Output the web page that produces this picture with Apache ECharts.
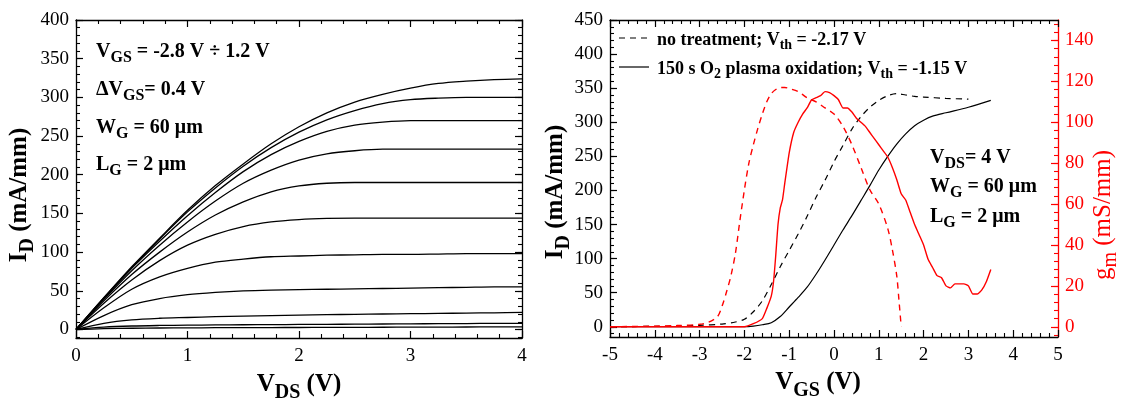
<!DOCTYPE html>
<html>
<head>
<meta charset="utf-8">
<script src="https://cdn.jsdelivr.net/npm/echarts@6/dist/echarts.min.js"></script>
<style>
html,body{margin:0;padding:0;background:#fff;}
#c{width:1125px;height:398px;}
</style>
</head>
<body>
<div id="c"></div>
<script>
// ---------- Left panel: output characteristics ----------
const vds = [0,0.25,0.5,0.75,1,1.25,1.5,1.75,2,2.25,2.5,2.75,3,3.25,3.5,3.75,4];
const vgsLabels = ['1.2','0.8','0.4','0','-0.4','-0.8','-1.2','-1.6','-2.0','-2.4','-2.8'];
const id_p12 = [0,41,81,118,154,186,214,240,262,280,294,304,312,318,321,323,324];
const id_p08 = [0,41,80,117,152,183,211,235,255,271,283,292,297,299,300,300,300];
const id_p04 = [0,40,79,114,147,177,204,226,243,256,264,268,270,270,270,270,270];
const id_p00 = [0,39,76,109,139,166,189,206,219,227,231,233,233,233,233,233,233];
const id_m04 = [0,37,71,100,126,148,165,178,185.5,189,190,190,190,190,190,190,190];
const id_m08 = [0,34,64,89,109,123,133,139,142,143.5,144,144,144,144,144,144,144];
const id_m12 = [0,28,52,68,79,87,91,94,95,96,96.5,97,97,97.5,98,98,98];
const id_m16 = [0,18,32,40,45,48,50,51,51.5,52,52.5,53,53.5,54,54.5,55,55];
const id_m20 = [0,8,12.5,14.5,15.5,16.5,17.3,18,18.6,19.1,19.6,20,20.4,20.8,21.2,21.6,22];
const id_m24 = [0,3,4.5,5.2,5.6,5.9,6.1,6.3,6.5,6.7,6.9,7.1,7.3,7.5,7.7,7.9,8];
const id_m28 = [0,1,1.6,1.9,2.1,2.3,2.4,2.5,2.6,2.7,2.8,2.9,3.0,3.1,3.2,3.3,3.4];
const outCurves = [id_p12,id_p08,id_p04,id_p00,id_m04,id_m08,id_m12,id_m16,id_m20,id_m24,id_m28];

// ---------- Right panel: transfer characteristics ----------
const vgsRef = [-5,-4.5,-4,-3.5,-3,-2.5,-2.2,-2,-1.8,-1.6,-1.4,-1.2,-1,-0.8,-0.6,-0.4,-0.2,0,0.2,0.4,0.6,0.8,1,1.2,1.4,1.6,1.8,2,2.5,3];
const idRef  = [0,0.3,0.6,1,2,4,7,11,22,38,62,88,112,136,162,190,215,242,266,290,308,322,332,339,342,340,338,337,335,334];
const vgsOx = [-5,-4,-3,-2,-1.8,-1.6,-1.4,-1.2,-1,-0.8,-0.6,-0.4,-0.2,0,0.2,0.4,0.6,0.8,1,1.2,1.4,1.6,1.8,2,2.2,2.5,3,3.5];
const idOx  = [0,0,0,0,1,3,6,15,29,43,58,77,98,120,142,163,185,207,230,250,268,283,295,303,309,314,322,332];
const vgsGmRef = [-5,-4,-3.5,-3,-2.8,-2.6,-2.5,-2.4,-2.3,-2.2,-2.1,-2,-1.9,-1.8,-1.7,-1.6,-1.5,-1.4,-1.3,-1.2,-1.1,-1,-0.8,-0.6,-0.4,-0.2,0,0.2,0.4,0.6,0.8,1,1.2,1.3,1.4,1.45,1.5];
const gmRef = [0,0.3,0.6,1.2,2.2,5,10,17,25,36,52,67,80,89,97,104,110,114,116,117,117,116.5,115,112,110,107,104,98,89,78,67,60,48,38,25,13,0];
const vgsGmOx = [-5,-2,-1.8,-1.6,-1.5,-1.4,-1.35,-1.3,-1.25,-1.2,-1.15,-1.1,-1,-0.9,-0.8,-0.7,-0.6,-0.5,-0.4,-0.3,-0.2,-0.1,0,0.1,0.2,0.3,0.4,0.5,0.6,0.7,0.8,0.9,1,1.1,1.2,1.3,1.4,1.5,1.6,1.7,1.8,1.9,2,2.1,2.2,2.3,2.4,2.5,2.6,2.7,2.8,2.9,3,3.1,3.2,3.3,3.4,3.5];
const gmOx = [0,0,1.5,4,9,15,22,35,50,58,62,70,85,95,100,104,107,111,112,113,115,114.5,113,111,107,107,105,102,100,98,95,92,89,86,83,78,72,65,62,56,50,45,40,33,29,25,24,20,19,21,21,21,20,16,16,18,22,28];

// ---------- Tick values ----------
const idTicksL = [0,50,100,150,200,250,300,350,400];
const idTicksR = [0,50,100,150,200,250,300,350,400,450];
const gmTicks = [0,20,40,60,80,100,120,140];
const minorL = []; for (let v=-10; v<=400; v+=10) minorL.push(v);
const minorR = []; for (let v=-10; v<=450; v+=10) minorR.push(v);
const minorGm = []; for (let v=-4; v<=150; v+=4) minorGm.push(v);

const FONT = 'Liberation Serif';
const RED = '#ff0000';
const chart = echarts.init(document.getElementById('c'), null, {renderer:'canvas'});

function yMajor(grid, min, max, pos, vals, showLabel, color){
  return {type:'value', gridIndex:grid, min:min, max:max, position:pos,
    axisLine:{show:true, onZero:false, lineStyle:{color:color||'#000', width:1.3}},
    axisTick:{show:true, inside:true, length:7, customValues:vals, lineStyle:{color:color||'#000', width:1.2}},
    axisLabel:{show:showLabel, customValues:vals, color:color||'#000', fontFamily:FONT, fontSize:19, margin:7},
    splitLine:{show:false}};
}
function yMinor(grid, min, max, pos, vals, color){
  return {type:'value', gridIndex:grid, min:min, max:max, position:pos,
    axisLine:{show:false, onZero:false},
    axisTick:{show:true, inside:true, length:4, customValues:vals, lineStyle:{color:color||'#000', width:1.1}},
    axisLabel:{show:false}, splitLine:{show:false}};
}
function xAx(grid, min, max, pos, showLabel){
  return {type:'value', gridIndex:grid, min:min, max:max, interval:1, position:pos,
    axisLine:{show:true, onZero:false, lineStyle:{color:'#000', width:1.3}},
    axisTick:{show:true, inside:true, length:7, lineStyle:{color:'#000', width:1.2}},
    minorTick:{show:true, splitNumber:5, length:4, lineStyle:{color:'#000', width:1.1}},
    axisLabel:{show:showLabel, color:'#000', fontFamily:FONT, fontSize:19, margin:9},
    splitLine:{show:false}, minorSplitLine:{show:false}};
}

const series = [];
outCurves.forEach((arr, i) => {
  series.push({type:'line', name:'VGS '+vgsLabels[i], xAxisIndex:0, yAxisIndex:0,
    data: vds.map((x,k)=>[x, arr[k]]), showSymbol:false, smooth:0.3,
    lineStyle:{color:'#000', width:1.3}, silent:true});
});
series.push({type:'line', name:'no treatment', xAxisIndex:2, yAxisIndex:4,
  data: vgsRef.map((x,k)=>[x, idRef[k]]), showSymbol:false, smooth:0.3,
  lineStyle:{color:'#000', width:1.2, type:[6,5]}});
series.push({type:'line', name:'O2 plasma', xAxisIndex:2, yAxisIndex:4,
  data: vgsOx.map((x,k)=>[x, idOx[k]]), showSymbol:false, smooth:0.3,
  lineStyle:{color:'#000', width:1.2}});
series.push({type:'line', name:'gm no treatment', xAxisIndex:2, yAxisIndex:6,
  data: vgsGmRef.map((x,k)=>[x, gmRef[k]]), showSymbol:false, smooth:0.3,
  lineStyle:{color:RED, width:1.4, type:[6,5]}});
series.push({type:'line', name:'gm O2 plasma', xAxisIndex:2, yAxisIndex:6,
  data: vgsGmOx.map((x,k)=>[x, gmOx[k]]), showSymbol:false, smooth:0.15,
  lineStyle:{color:RED, width:1.4}});

// rich text helpers
function rich(size, color, weight){
  const w = weight || 'bold';
  return {
    b:{fontFamily:FONT, fontWeight:w, fontSize:size, fill:color},
    s:{fontFamily:FONT, fontWeight:w, fontSize:Math.round(size*0.8), fill:color, padding:[Math.round(size*0.6),0,0,0]}
  };
}
function txt(x, y, text, size, color, rot, weight, align){
  return {type:'text', x:x, y:y, rotation:rot||0, silent:true,
    style:{text:text, rich:rich(size, color||'#000', weight), textAlign:align||'left', textVerticalAlign:'middle'}};
}

const graphics = [
  txt(96, 52, '{b|V}{s|GS}{b| = -2.8 V ÷ 1.2 V}', 20),
  txt(96, 90, '{b|ΔV}{s|GS}{b|= 0.4 V}', 20),
  txt(96, 128, '{b|W}{s|G}{b| = 60 μm}', 20),
  txt(96, 165, '{b|L}{s|G}{b| = 2 μm}', 20),
  txt(657, 40, '{b|no treatment; V}{s|th}{b| = -2.17 V}', 18),
  txt(657, 69, '{b|150 s O}{s|2}{b| plasma oxidation; V}{s|th}{b| = -1.15 V}', 18),
  txt(930, 158, '{b|V}{s|DS}{b|= 4 V}', 20),
  txt(930, 187, '{b|W}{s|G}{b| = 60 μm}', 20),
  txt(930, 217, '{b|L}{s|G}{b| = 2 μm}', 20),
  txt(299, 385, '{b|V}{s|DS}{b| (V)}', 25, '#000', 0, 'bold', 'center'),
  txt(818, 383, '{b|V}{s|GS}{b| (V)}', 25, '#000', 0, 'bold', 'center'),
  txt(20, 195, '{b|I}{s|D}{b| (mA/mm)}', 25, '#000', Math.PI/2, 'bold', 'center'),
  txt(556, 192, '{b|I}{s|D}{b| (mA/mm)}', 25, '#000', Math.PI/2, 'bold', 'center'),
  txt(1103, 215, '{b|g}{s|m}{b| (mS/mm)}', 25, RED, Math.PI/2, 'normal', 'center'),
  {type:'line', silent:true, shape:{x1:619, y1:38, x2:647, y2:38}, style:{stroke:'#000', lineWidth:1.2, lineDash:[6,5]}},
  {type:'line', silent:true, shape:{x1:619, y1:67, x2:649, y2:67}, style:{stroke:'#000', lineWidth:1.2}}
];

chart.setOption({
  animation:false,
  backgroundColor:'#fff',
  grid:[
    {left:76, top:20, width:446, height:318},
    {left:610, top:20, width:448, height:317}
  ],
  xAxis:[
    xAx(0, 0, 4, 'bottom', true),
    xAx(0, 0, 4, 'top', false),
    xAx(1, -5, 5, 'bottom', true),
    xAx(1, -5, 5, 'top', false)
  ],
  yAxis:[
    yMajor(0, -11, 400, 'left', idTicksL, true),
    yMinor(0, -11, 400, 'left', minorL),
    yMajor(0, -11, 400, 'right', idTicksL, false),
    yMinor(0, -11, 400, 'right', minorL),
    yMajor(1, -15, 450, 'left', idTicksR, true),
    yMinor(1, -15, 450, 'left', minorR),
    yMajor(1, -5, 150, 'right', gmTicks, true, RED),
    yMinor(1, -5, 150, 'right', minorGm, RED)
  ],
  series:series,
  graphic:graphics
});
</script>
</body>
</html>
